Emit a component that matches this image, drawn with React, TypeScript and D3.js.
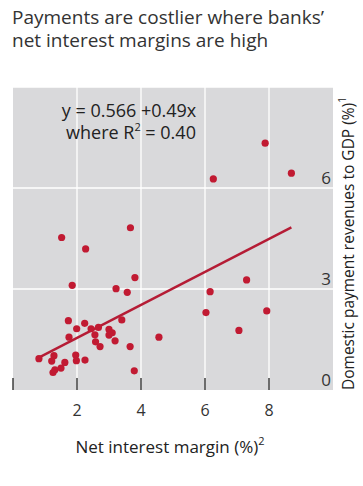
import React from "react";
import * as d3 from "d3";

const title = ["Payments are costlier where banks’", "net interest margins are high"];
const xTicks = [0, 2, 4, 6, 8];
const xTickLabels = [2, 4, 6, 8];
const yTicks = [0, 3, 6];
const gridX = [2, 4, 6, 8];
const gridY = [3, 6, 9];
const nim = [
  0.81, 1.28, 1.21, 1.25, 1.31, 1.5, 1.62, 1.96, 1.98, 2.25, 1.75, 1.73, 1.99, 2.24, 2.44, 2.67,
  2.56, 2.58, 2.72, 3.0, 3.1, 3.0, 3.19, 3.4, 3.66, 3.79, 4.56, 1.85, 3.22, 3.57, 3.81, 1.52,
  2.27, 3.67, 6.26, 7.88, 8.7, 7.3, 6.16, 6.03, 7.93, 7.06,
];
const revenue = [
  0.93, 1.02, 0.86, 0.52, 0.6, 0.65, 0.82, 1.04, 0.87, 0.89, 1.57, 2.06, 1.82, 1.98, 1.82, 1.86,
  1.64, 1.43, 1.29, 1.8, 1.7, 1.63, 1.46, 2.08, 1.29, 0.57, 1.57, 3.11, 3.01, 2.9, 3.34, 4.53,
  4.19, 4.82, 6.27, 7.33, 6.44, 3.27, 2.92, 2.3, 2.35, 1.77,
];
const intercept = 0.566;
const slope = 0.49;
const fitRange = [0.82, 8.7];

const FONT = "'Open Sans', 'Noto Sans', sans-serif";
const RED = "#c11a32";

export default function App() {
  const left = 13, right = 333, top = 87, bottom = 390;
  const x = d3.scaleLinear().domain([0, 10]).range([left, right]);
  const y = d3.scaleLinear().domain([0, 9]).range([bottom, top]);
  const line = d3.line<number>().x((d) => x(d)).y((d) => y(intercept + slope * d));
  const pts = nim.map((v, i) => ({ x: v, y: revenue[i] }));

  return (
    <svg width={363} height={486} style={{ position: "absolute", left: 0, top: 0, background: "#fff" }} fontFamily={FONT}>
      {title.map((t, i) => (
        <text key={i} x={12} y={24 + i * 23} fontSize={19} fill="#333">{t}</text>
      ))}
      <rect x={left} y={top} width={right - left} height={bottom - top} fill="#d9d9db" />
      {gridX.map((g) => (
        <line key={"gx" + g} x1={x(g)} x2={x(g)} y1={top} y2={bottom} stroke="#fff" strokeWidth={1.3} />
      ))}
      {gridY.map((g) => (
        <line key={"gy" + g} x1={left} x2={right} y1={y(g)} y2={y(g)} stroke="#fff" strokeWidth={1.3} />
      ))}
      {xTicks.map((t) => (
        <line key={"t" + t} x1={x(t)} x2={x(t)} y1={bottom - 12} y2={bottom} stroke="#222" strokeWidth={1.3} />
      ))}
      {xTickLabels.map((t) => (
        <text key={"xl" + t} x={x(t)} y={416} textAnchor="middle" fontSize={16} fill="#333">{t}</text>
      ))}
      {yTicks.map((t) => (
        <text key={"yl" + t} x={331} y={y(t) - 4} textAnchor="end" fontSize={17} fill="#333">{t}</text>
      ))}
      <path d={line(fitRange) || ""} stroke="#b51c35" strokeWidth={2.4} fill="none" />
      {pts.map((p, i) => (
        <circle key={i} cx={x(p.x)} cy={y(p.y)} r={3.6} fill={RED} />
      ))}
      <text x={129} y={117} textAnchor="middle" fontSize={18} fill="#222">y = 0.566 +0.49x</text>
      <text x={131} y={139} textAnchor="middle" fontSize={18} fill="#222">
        where R<tspan dy={-8} fontSize={11}>2</tspan><tspan dy={8}> = 0.40</tspan>
      </text>
      <text x={170} y={453} textAnchor="middle" fontSize={17} fill="#222">
        Net interest margin (%)<tspan dy={-8} fontSize={11}>2</tspan>
      </text>
      <text transform={`translate(354,${bottom}) rotate(-90)`} x={0} y={0} fontSize={15.5} fill="#222">
        Domestic payment revenues to GDP (%)<tspan dy={-8} fontSize={10}>1</tspan>
      </text>
    </svg>
  );
}
